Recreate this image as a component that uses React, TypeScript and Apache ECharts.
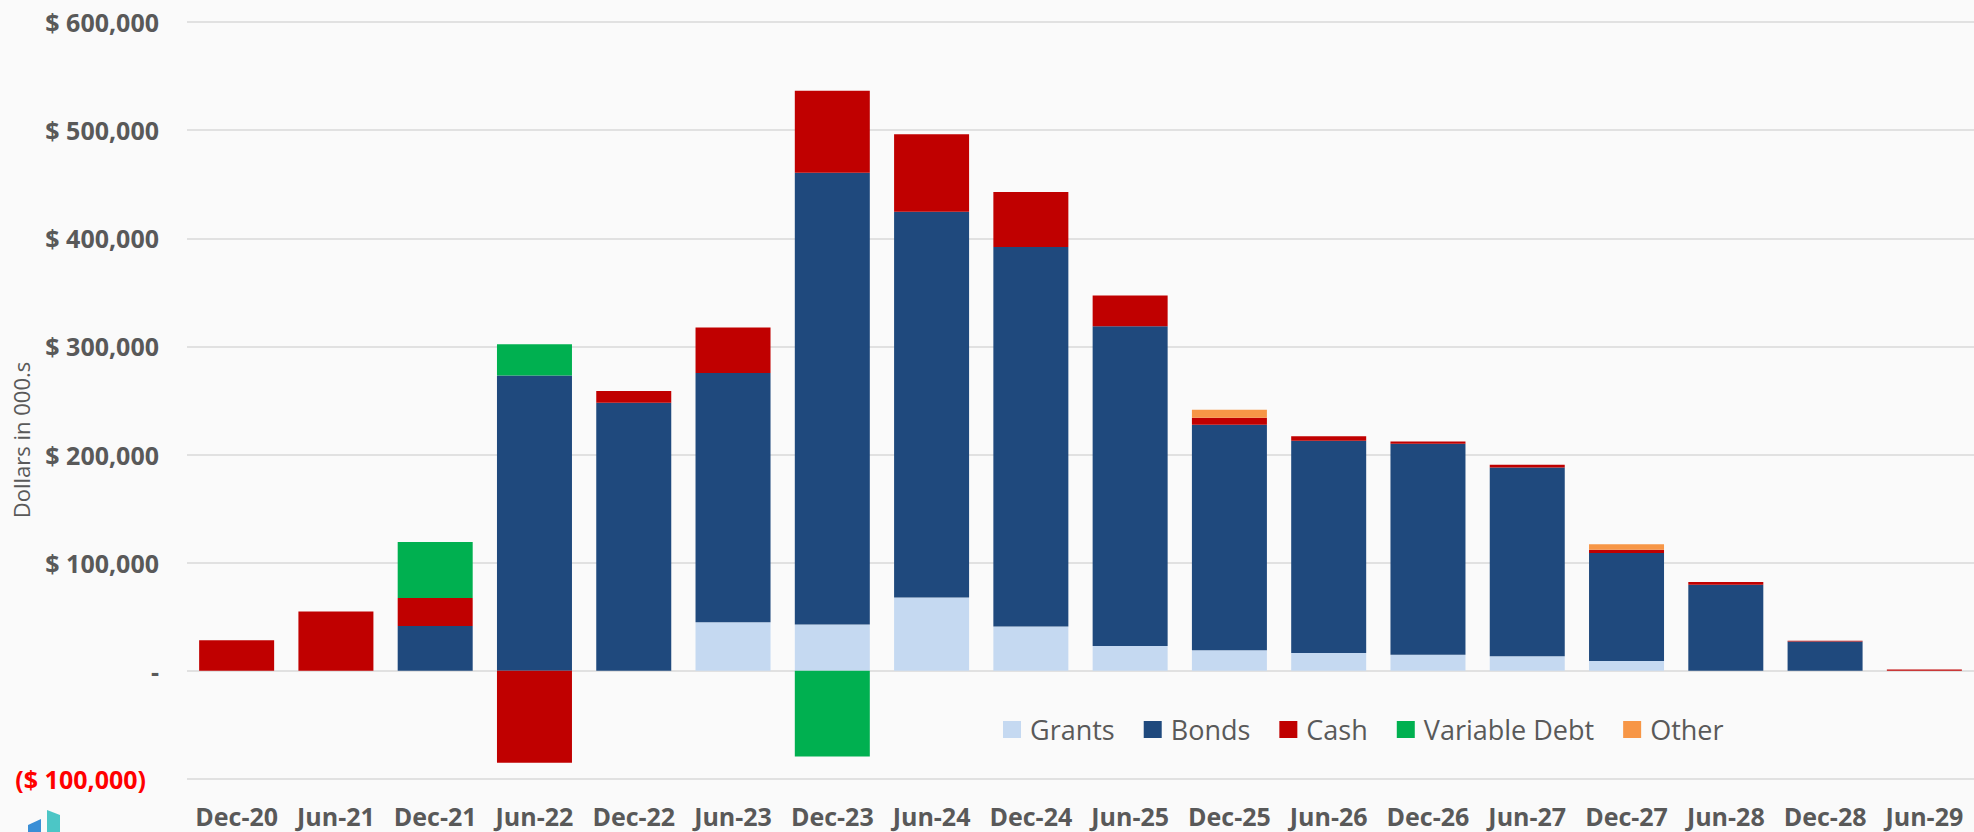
import React, { useEffect, useRef } from "react";
import * as echarts from "echarts";

const categories = [
  "Dec-20", "Jun-21", "Dec-21", "Jun-22", "Dec-22", "Jun-23", "Dec-23", "Jun-24", "Dec-24",
  "Jun-25", "Dec-25", "Jun-26", "Dec-26", "Jun-27", "Dec-27", "Jun-28", "Dec-28", "Jun-29",
];

const grants = [0, 0, 0, 0, 0, 44900, 42800, 67800, 41100, 22900, 19100, 16400, 14800, 13600, 9000, 0, 0, 0];
const bonds = [0, 0, 41400, 273100, 247900, 230500, 417800, 356800, 350800, 295700, 208400, 196300, 195100, 174400, 100000, 79600, 27200, 0];
const cash = [28400, 54900, 25900, -84900, 11000, 42000, 75800, 71600, 50900, 28400, 6500, 4300, 2100, 2700, 3000, 2500, 700, 1200];
const variableDebt = [0, 0, 51900, 28800, 0, 0, -79200, 0, 0, 0, 0, 0, 0, 0, 0, 0, 0, 0];
const other = [0, 0, 0, 0, 0, 0, 0, 0, 0, 0, 7400, 0, 0, 0, 5000, 0, 0, 0];

const seriesNames = ["Grants", "Bonds", "Cash", "Variable Debt", "Other"];
const seriesColors = ["#C5D9F1", "#1F497D", "#C00000", "#00B050", "#F79646"];
const seriesData = [grants, bonds, cash, variableDebt, other];

const yMin = -100000;
const yMax = 600000;
const yInterval = 100000;

const FONT = "'Open Sans', 'DejaVu Sans', sans-serif";
const GREY = "#595959";

function fmt(v: number): string {
  return v.toLocaleString("en-US");
}

export default function App() {
  const ref = useRef<HTMLDivElement>(null);

  useEffect(() => {
    if (!ref.current) return;
    const chart = echarts.init(ref.current, null, { renderer: "svg" });
    chart.setOption({
      animation: false,
      backgroundColor: "#FAFAFA",
      textStyle: { fontFamily: FONT },
      grid: { left: 187, right: 0, top: 22, bottom: 53, containLabel: false },
      legend: {
        data: seriesNames,
        left: 1003,
        top: 716,
        padding: 0,
        icon: "rect",
        itemWidth: 18,
        itemHeight: 17,
        itemGap: 29,
        textStyle: { fontFamily: FONT, fontSize: 27, color: GREY, padding: [0, 0, 0, 4] },
      },
      xAxis: {
        type: "category",
        data: categories,
        axisLine: { show: false, onZero: false },
        axisTick: { show: false },
        axisLabel: {
          interval: 0,
          margin: 24,
          fontFamily: FONT,
          fontSize: 25,
          fontWeight: "bold",
          color: GREY,
        },
        splitLine: { show: false },
      },
      yAxis: {
        type: "value",
        min: yMin,
        max: yMax,
        interval: yInterval,
        axisLine: { show: false },
        axisTick: { show: false },
        splitLine: { lineStyle: { color: "#D9D9D9", width: 1.5 } },
        axisLabel: {
          margin: 28,
          fontFamily: FONT,
          fontSize: 25,
          fontWeight: "bold",
          color: GREY,
          formatter: (v: number) => {
            if (v === 0) return "-";
            if (v < 0) return `{neg|($ ${fmt(-v)})}`;
            return `$ ${fmt(v)}`;
          },
          rich: {
            neg: {
              color: "#FF0000",
              fontFamily: FONT,
              fontSize: 25,
              fontWeight: "bold",
              padding: [0, 13, 0, 0],
            },
          },
        },
      },
      graphic: [
        {
          type: "text",
          x: 21,
          y: 440,
          rotation: Math.PI / 2,
          style: {
            text: "Dollars in 000.s",
            fontFamily: FONT,
            fontSize: 22,
            fill: GREY,
            align: "center",
            verticalAlign: "middle",
          },
        },
        {
          type: "polygon",
          shape: { points: [[28, 825], [41, 819], [41, 832], [28, 832]] },
          style: { fill: "#3A8FD6" },
        },
        {
          type: "polygon",
          shape: { points: [[47, 810], [60, 815], [60, 832], [47, 832]] },
          style: { fill: "#4CC6C6" },
        },
      ],
      series: seriesNames.map((name, i) => ({
        name,
        type: "bar",
        stack: "total",
        barWidth: 75,
        data: seriesData[i],
        itemStyle: { color: seriesColors[i] },
        emphasis: { disabled: true },
      })),
    });
    return () => chart.dispose();
  }, []);

  return (
    <div
      ref={ref}
      style={{ position: "fixed", left: 0, top: 0, width: 1974, height: 832, background: "#FAFAFA" }}
    />
  );
}
